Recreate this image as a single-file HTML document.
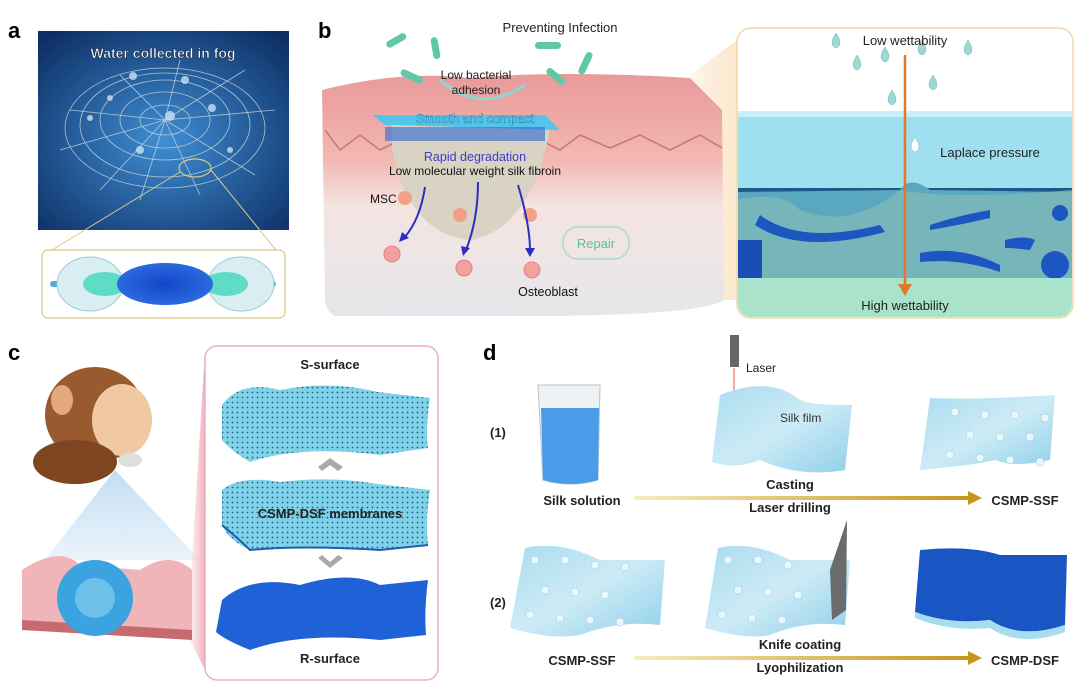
<!DOCTYPE html>
<html><head><meta charset="utf-8"><style>
html,body{margin:0;padding:0;background:#fff;width:1080px;height:689px;overflow:hidden}
svg text{font-family:"Liberation Sans",Arial,sans-serif}
</style></head><body>
<svg width="1080" height="689" viewBox="0 0 1080 689" xmlns="http://www.w3.org/2000/svg">
<defs>
<radialGradient id="ga" cx="0.5" cy="0.55" r="0.7"><stop offset="0" stop-color="#3f8ed4"/><stop offset="1" stop-color="#0d2e63"/></radialGradient>
<linearGradient id="skin" x1="0" y1="0" x2="0" y2="1"><stop offset="0" stop-color="#e89a9a"/><stop offset="0.35" stop-color="#f2b7b0"/><stop offset="0.55" stop-color="#f4e4e2"/><stop offset="1" stop-color="#e6e6ea"/></linearGradient>
<linearGradient id="beam" x1="0" y1="0" x2="1" y2="0"><stop offset="0" stop-color="#f8d9b0" stop-opacity="0.2"/><stop offset="1" stop-color="#fbe6c8" stop-opacity="0.9"/></linearGradient>
<linearGradient id="arr" x1="0" y1="0" x2="1" y2="0"><stop offset="0" stop-color="#f6ecc0"/><stop offset="1" stop-color="#c7961c"/></linearGradient>
<linearGradient id="film" x1="0" y1="0" x2="1" y2="1"><stop offset="0" stop-color="#a9dcef"/><stop offset="0.5" stop-color="#cdebf6"/><stop offset="1" stop-color="#8fd0ea"/></linearGradient>
<pattern id="dots" width="5" height="5" patternUnits="userSpaceOnUse"><rect width="5" height="5" fill="#7fd2ea"/><circle cx="2.5" cy="2.5" r="0.9" fill="#1f5f7a"/></pattern>
<radialGradient id="bead" cx="0.5" cy="0.5" r="0.5"><stop offset="0" stop-color="#1446c8"/><stop offset="1" stop-color="#2a6ae0"/></radialGradient>
<linearGradient id="pinkbeam" x1="0" y1="0" x2="1" y2="0"><stop offset="0" stop-color="#f7c9d1" stop-opacity="0.3"/><stop offset="1" stop-color="#f1a6b5" stop-opacity="0.9"/></linearGradient>
<linearGradient id="bluebeam" x1="0" y1="0" x2="0" y2="1"><stop offset="0" stop-color="#b8d8f0"/><stop offset="1" stop-color="#e8f2fa"/></linearGradient>
<clipPath id="cc"><rect x="206" y="347" width="231" height="332" rx="11"/></clipPath>
</defs>

<!-- Panel a -->
<text x="8" y="38" font-size="22" font-weight="bold">a</text>
<rect x="38" y="31" width="251" height="199" fill="url(#ga)"/>
<g stroke="#c9d6dd" stroke-width="0.8" fill="none" opacity="0.85">
<path d="M165 120 L70 110 M165 120 L60 150 M165 120 L100 190 M165 120 L140 200 M165 120 L200 195 M165 120 L255 175 M165 120 L275 110 M165 120 L245 70 M165 120 L180 60 M165 120 L120 75"/>
<ellipse cx="165" cy="120" rx="25" ry="15"/><ellipse cx="165" cy="120" rx="45" ry="28"/><ellipse cx="165" cy="120" rx="65" ry="40"/><ellipse cx="165" cy="125" rx="85" ry="52"/><ellipse cx="165" cy="128" rx="100" ry="60"/>
</g>
<g fill="#c9e2f2" opacity="0.8"><circle cx="170" cy="116" r="5"/><circle cx="133" cy="76" r="4"/><circle cx="185" cy="80" r="4"/><circle cx="110" cy="98" r="3"/><circle cx="212" cy="108" r="4"/><circle cx="140" cy="150" r="4"/><circle cx="230" cy="150" r="3"/><circle cx="90" cy="118" r="3"/></g>
<text x="163" y="58" font-size="14" font-weight="bold" fill="#fff" stroke="#1a2b4a" stroke-width="0.6" text-anchor="middle">Water collected in fog</text>
<ellipse cx="195" cy="168" rx="16" ry="9" fill="none" stroke="#d9c88a" stroke-width="1.2"/>
<line x1="180" y1="172" x2="52" y2="250" stroke="#d9c88a" stroke-width="1"/>
<line x1="211" y1="170" x2="276" y2="250" stroke="#d9c88a" stroke-width="1"/>
<rect x="42" y="250" width="243" height="68" rx="6" fill="#fff" stroke="#d9c88a" stroke-width="1.2"/>
<rect x="50" y="281" width="226" height="6" rx="3" fill="#5aa8e0"/>
<ellipse cx="90" cy="284" rx="33" ry="27" fill="#d8eef2" stroke="#9ccdd6"/>
<ellipse cx="241" cy="284" rx="33" ry="27" fill="#d8eef2" stroke="#9ccdd6"/>
<ellipse cx="105" cy="284" rx="22" ry="12" fill="#5fdcc5"/>
<ellipse cx="226" cy="284" rx="22" ry="12" fill="#5fdcc5"/>
<ellipse cx="165" cy="284" rx="48" ry="21" fill="url(#bead)"/>

<!-- Panel b -->
<text x="318" y="38" font-size="22" font-weight="bold">b</text>
<polygon points="690,75 737,40 737,300 700,300" fill="url(#beam)"/>
<path d="M322 90 Q400 70 470 78 Q560 70 690 78 L722 110 L724 300 Q700 316 520 316 L335 316 Q325 310 325 300 Z" fill="url(#skin)"/>
<path d="M325 130 L340 150 L360 135 L380 150 L400 140 L540 140 L560 150 L580 135 L610 148 L640 135 L670 150 L700 135 L722 148" stroke="#c47777" stroke-width="1.5" fill="none"/>
<path d="M372 115 L545 115 L560 130 L385 125 Z" fill="#53c4ec"/>
<path d="M392 125 L550 130 Q530 230 470 240 Q410 235 392 150 Z" fill="#d9d3c4"/>
<rect x="385" y="127" width="160" height="14" fill="#2a6ad0" opacity="0.6"/>
<g fill="#5ecaa5"><rect x="385" y="37" width="22" height="7" rx="3.5" transform="rotate(-30 396 40)"/><rect x="425" y="45" width="22" height="7" rx="3.5" transform="rotate(80 436 48)"/><rect x="400" y="73" width="24" height="7" rx="3.5" transform="rotate(25 412 76)"/><rect x="535" y="42" width="26" height="7" rx="3.5"/><rect x="573" y="60" width="24" height="7" rx="3.5" transform="rotate(-65 585 63)"/><rect x="545" y="73" width="22" height="7" rx="3.5" transform="rotate(40 556 76)"/></g>
<path d="M440 80 Q480 115 525 85" stroke="#8fd7d0" stroke-width="3" fill="none"/>
<text x="560" y="32" font-size="13" text-anchor="middle" fill="#222">Preventing Infection</text>
<text x="476" y="79" font-size="12" text-anchor="middle" fill="#222">Low bacterial</text>
<text x="476" y="94" font-size="12" text-anchor="middle" fill="#222">adhesion</text>
<text x="475" y="123" font-size="12.5" text-anchor="middle" fill="#c8f4fb" stroke="#1f86b0" stroke-width="0.6">Smooth and compact</text>
<text x="475" y="161" font-size="12.5" text-anchor="middle" fill="#3a3ec8">Rapid degradation</text>
<text x="475" y="175" font-size="12" text-anchor="middle" fill="#111">Low molecular weight silk fibroin</text>
<text x="370" y="203" font-size="12" fill="#111">MSC</text>
<g fill="#f2a088"><circle cx="405" cy="198" r="7"/><circle cx="460" cy="215" r="7"/><circle cx="530" cy="215" r="7"/></g>
<g stroke="#2a2fc0" stroke-width="2" fill="none"><path d="M425 187 Q420 220 404 238"/><path d="M478 182 Q478 220 466 250"/><path d="M518 185 Q530 225 530 250"/></g>
<g fill="#2a2fc0"><polygon points="399,242 402,232 409,238"/><polygon points="463,256 461,246 470,248"/><polygon points="530,257 525,248 535,248"/></g>
<g fill="#f3a0a0" stroke="#e58383"><circle cx="392" cy="254" r="8"/><circle cx="464" cy="268" r="8"/><circle cx="532" cy="270" r="8"/></g>
<rect x="563" y="227" width="66" height="32" rx="15" fill="none" stroke="#a9dcc4" stroke-width="1.5"/>
<text x="596" y="248" font-size="13" text-anchor="middle" fill="#5bbf9a">Repair</text>
<text x="548" y="296" font-size="12.5" text-anchor="middle" fill="#111">Osteoblast</text>

<!-- b inset -->
<rect x="737" y="28" width="336" height="290" rx="14" fill="#fff" stroke="#eed7a6" stroke-width="1.5"/>
<clipPath id="cb"><rect x="738" y="29" width="334" height="288" rx="13"/></clipPath>
<g clip-path="url(#cb)">
<rect x="737" y="111" width="336" height="80" fill="#9fe0f0"/>
<rect x="737" y="111" width="336" height="6" fill="#c8f0f8"/>
<rect x="737" y="188" width="336" height="4" fill="#1b5a86"/>
<path d="M737 192 L900 190 Q910 175 930 190 L1073 192 L1073 280 L737 280 Z" fill="#5aa7c0"/>
<path d="M737 200 Q780 190 800 210 Q850 230 900 190 Q950 200 1073 190 L1073 280 L737 280 Z" fill="#7dbab8" opacity="0.8"/>
<g fill="#1c56c0"><path d="M760 215 Q800 245 880 225 L885 232 Q800 255 755 225Z"/><path d="M930 225 Q960 215 990 210 L990 218 Q960 225 930 230Z"/><path d="M1005 240 Q1025 235 1035 240 L1030 250 Q1015 248 1005 248Z"/><path d="M920 253 Q960 245 1000 265 L1000 272 Q960 258 920 262Z"/><rect x="737" y="240" width="25" height="40" fill="#1a4eb5"/><circle cx="1055" cy="265" r="14"/><circle cx="1060" cy="213" r="8"/></g>
<rect x="737" y="278" width="336" height="40" fill="#a9e3cc"/>
</g>
<g fill="#9ed8d2" stroke="#6cb8b5" stroke-width="0.5">
<path d="M836 33 q-8 12 0 15 q8 -3 0 -15z"/><path d="M885 47 q-8 12 0 15 q8 -3 0 -15z"/><path d="M922 40 q-8 12 0 15 q8 -3 0 -15z"/><path d="M968 40 q-8 12 0 15 q8 -3 0 -15z"/><path d="M857 55 q-8 12 0 15 q8 -3 0 -15z"/><path d="M933 75 q-8 12 0 15 q8 -3 0 -15z"/><path d="M892 90 q-8 12 0 15 q8 -3 0 -15z"/><path d="M915 137 q-8 12 0 15 q8 -3 0 -15z" fill="#fff"/>
</g>
<line x1="905" y1="55" x2="905" y2="286" stroke="#e07a2a" stroke-width="2.5"/>
<polygon points="898,284 912,284 905,296" fill="#e07a2a"/>
<text x="905" y="45" font-size="13" text-anchor="middle" fill="#222">Low wettability</text>
<text x="990" y="157" font-size="13" text-anchor="middle" fill="#222">Laplace pressure</text>
<text x="905" y="310" font-size="13" text-anchor="middle" fill="#222">High wettability</text>

<!-- Panel c -->
<text x="8" y="360" font-size="22" font-weight="bold">c</text>
<polygon points="115,470 45,560 200,560" fill="url(#bluebeam)" opacity="0.85"/>
<polygon points="192,560 205,350 205,670 190,640" fill="url(#pinkbeam)"/>
<ellipse cx="95" cy="415" rx="50" ry="48" fill="#9a5a30"/>
<ellipse cx="122" cy="420" rx="30" ry="36" fill="#f0c9a2"/>
<ellipse cx="62" cy="400" rx="11" ry="15" fill="#e2a880"/>
<ellipse cx="75" cy="462" rx="42" ry="22" fill="#7d4620"/>
<ellipse cx="130" cy="460" rx="12" ry="7" fill="#dedede"/>
<path d="M22 570 Q60 545 80 565 L140 570 Q170 550 192 570 L192 630 L22 625 Z" fill="#efb5b8"/>
<path d="M22 620 L192 630 L192 640 L22 630Z" fill="#c76a70"/>
<ellipse cx="95" cy="598" rx="38" ry="38" fill="#3aa3e0"/>
<ellipse cx="95" cy="598" rx="20" ry="20" fill="#8fd6ef" opacity="0.6"/>
<rect x="205" y="346" width="233" height="334" rx="12" fill="#fff" stroke="#ebb3bb" stroke-width="1.5"/>
<g clip-path="url(#cc)">
<text x="330" y="369" font-size="13" font-weight="bold" text-anchor="middle" fill="#222">S-surface</text>
<path d="M222 405 Q240 380 280 390 Q330 380 378 392 L430 398 Q425 430 428 448 L380 455 Q300 445 250 462 Q230 450 222 440 Z" fill="url(#dots)"/>
<path d="M318 467 L330 458 L343 467 L338 471 L330 465 L322 471 Z" fill="#a9a9a9"/>
<path d="M222 490 Q240 475 280 482 Q330 476 378 484 L430 490 Q425 520 428 545 L380 550 Q300 545 250 550 Q228 540 222 525 Z" fill="url(#dots)"/>
<path d="M222 525 Q240 540 250 550 Q300 545 380 550 L428 545" stroke="#1f5fb0" stroke-width="2" fill="none"/>
<text x="330" y="518" font-size="13" font-weight="bold" text-anchor="middle" fill="#222">CSMP-DSF membranes</text>
<path d="M318 558 L330 568 L343 558 L338 555 L330 562 L322 555 Z" fill="#a9a9a9"/>
<path d="M222 600 Q250 575 300 585 Q350 570 380 585 L428 580 Q424 610 426 635 L380 640 Q300 632 250 650 Q225 640 216 632 Z" fill="#1f62d8"/>
<text x="330" y="663" font-size="13" font-weight="bold" text-anchor="middle" fill="#222">R-surface</text>
</g>

<!-- Panel d -->
<text x="483" y="360" font-size="22" font-weight="bold">d</text>
<text x="490" y="437" font-size="13" font-weight="bold" fill="#222">(1)</text>
<text x="490" y="607" font-size="13" font-weight="bold" fill="#222">(2)</text>
<path d="M538 385 L600 385 L598 480 Q570 488 543 480 Z" fill="#eef2f4" stroke="#b8c2c8"/>
<path d="M541 408 L599 408 L598 480 Q570 488 543 480 Z" fill="#4a9be8"/>
<rect x="730" y="335" width="9" height="32" fill="#666"/>
<line x1="734" y1="368" x2="734" y2="440" stroke="#e25050" stroke-width="1"/>
<circle cx="734" cy="442" r="3" fill="#e03030"/>
<text x="746" y="372" font-size="12" fill="#222">Laser</text>
<path d="M720 395 Q770 375 800 400 Q810 405 852 405 L845 470 Q800 478 760 460 Q735 470 712 462 Z" fill="url(#film)"/>
<text x="780" y="422" font-size="12" fill="#333">Silk film</text>
<path d="M855 398 Q900 400 980 395 L975 460 Q940 468 920 460 Q900 465 845 470 Z" fill="url(#film)" transform="translate(75,0)"/>
<g fill="#eaf8fc" stroke="#8cc8dc" stroke-width="0.5"><circle cx="955" cy="412" r="4"/><circle cx="985" cy="415" r="4"/><circle cx="1015" cy="415" r="4"/><circle cx="1045" cy="418" r="4"/><circle cx="970" cy="435" r="4"/><circle cx="1000" cy="437" r="4"/><circle cx="1030" cy="437" r="4"/><circle cx="950" cy="455" r="4"/><circle cx="980" cy="458" r="4"/><circle cx="1010" cy="460" r="4"/><circle cx="1040" cy="462" r="4"/></g>
<text x="582" y="505" font-size="13" font-weight="bold" text-anchor="middle" fill="#222">Silk solution</text>
<rect x="634" y="496" width="336" height="4" fill="url(#arr)"/>
<polygon points="968,491 982,498 968,505" fill="#c7961c"/>
<text x="1025" y="505" font-size="13" font-weight="bold" text-anchor="middle" fill="#222">CSMP-SSF</text>
<text x="790" y="489" font-size="13" font-weight="bold" text-anchor="middle" fill="#222">Casting</text>
<text x="790" y="512" font-size="13" font-weight="bold" text-anchor="middle" fill="#222">Laser drilling</text>
<path d="M525 548 Q560 540 600 560 Q640 560 665 560 L660 625 Q620 620 580 635 Q550 640 510 628 Z" fill="url(#film)"/>
<g fill="#eaf8fc" stroke="#8cc8dc" stroke-width="0.5"><circle cx="535" cy="560" r="4"/><circle cx="565" cy="560" r="4"/><circle cx="595" cy="565" r="4"/><circle cx="625" cy="567" r="4"/><circle cx="545" cy="590" r="4"/><circle cx="575" cy="592" r="4"/><circle cx="605" cy="595" r="4"/><circle cx="530" cy="615" r="4"/><circle cx="560" cy="618" r="4"/><circle cx="590" cy="620" r="4"/><circle cx="620" cy="622" r="4"/></g>
<path d="M718 548 Q750 540 790 560 Q830 560 850 560 L845 625 Q805 620 770 635 Q745 640 705 628 Z" fill="url(#film)"/>
<g fill="#eaf8fc" stroke="#8cc8dc" stroke-width="0.5"><circle cx="728" cy="560" r="4"/><circle cx="758" cy="560" r="4"/><circle cx="788" cy="565" r="4"/><circle cx="738" cy="590" r="4"/><circle cx="768" cy="592" r="4"/><circle cx="798" cy="595" r="4"/><circle cx="722" cy="615" r="4"/><circle cx="752" cy="618" r="4"/><circle cx="782" cy="620" r="4"/></g>
<polygon points="830,570 847,520 846,610 832,620" fill="#6b6b6b"/>
<path d="M920 550 Q970 545 1000 555 L1067 555 L1065 625 Q1020 640 990 620 Q950 625 915 612 Z" fill="#1a55c4"/>
<path d="M915 612 Q950 625 990 620 Q1020 640 1065 625 L1065 632 Q1020 648 990 628 Q950 632 915 618Z" fill="#a8dcef"/>
<text x="582" y="665" font-size="13" font-weight="bold" text-anchor="middle" fill="#222">CSMP-SSF</text>
<rect x="634" y="656" width="336" height="4" fill="url(#arr)"/>
<polygon points="968,651 982,658 968,665" fill="#c7961c"/>
<text x="1025" y="665" font-size="13" font-weight="bold" text-anchor="middle" fill="#222">CSMP-DSF</text>
<text x="800" y="649" font-size="13" font-weight="bold" text-anchor="middle" fill="#222">Knife coating</text>
<text x="800" y="672" font-size="13" font-weight="bold" text-anchor="middle" fill="#222">Lyophilization</text>
</svg>
</body></html>
